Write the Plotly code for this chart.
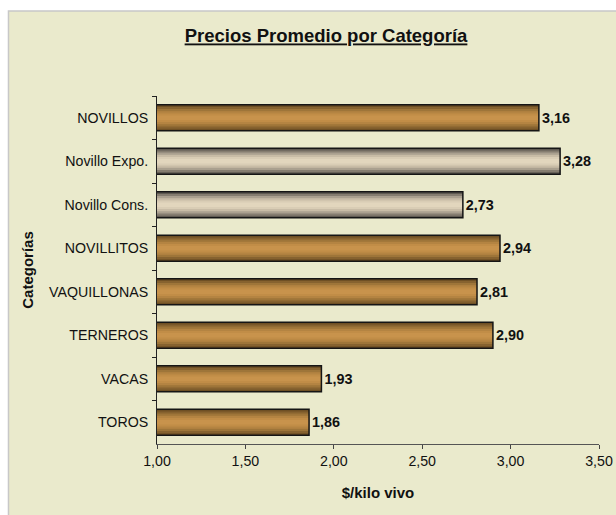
import plotly.graph_objects as go

categories = ["NOVILLOS", "Novillo Expo.", "Novillo Cons.", "NOVILLITOS",
              "VAQUILLONAS", "TERNEROS", "VACAS", "TOROS"]
values = [3.16, 3.28, 2.73, 2.94, 2.81, 2.90, 1.93, 1.86]
kinds = ["main", "sub", "sub", "main", "main", "main", "main", "main"]
x_ticks = [1.0, 1.5, 2.0, 2.5, 3.0, 3.5]

# gradient palettes (edge -> centre) for each bar kind
palettes = {
    "main": ["#6e4f24", "#86622f", "#9e7539", "#b48442", "#c18d47", "#c8934c"],
    "sub":  ["#5f5a52", "#857d70", "#aaa08f", "#c8bca6", "#d9cdb5", "#e2d6bd"],
}
BG = "#EAEACC"
FONT = "Liberation Sans, Arial"
bar_w = 0.6

fig = go.Figure()
n = len(palettes["main"])
for i in range(n):
    w = bar_w * (1 - i / n)
    fig.add_trace(go.Bar(
        y=categories, x=values, orientation="h", width=w,
        marker=dict(color=[palettes[k][i] for k in kinds], line=dict(width=0)),
        hoverinfo="skip", showlegend=False,
    ))

# outline + labels
fig.add_trace(go.Bar(
    y=categories, x=values, orientation="h", width=bar_w,
    marker=dict(color="rgba(0,0,0,0)", line=dict(color="#151515", width=1.5)),
    texttemplate="<b>%{x:.2f}</b>", textposition="outside",
    textfont=dict(family=FONT, size=14.4, color="#111"),
    cliponaxis=False, showlegend=False,
))

# panel background
fig.add_shape(type="rect", xref="paper", yref="paper",
              x0=-0.336, x1=1.06, y0=-0.25, y1=1.244,
              fillcolor=BG, line=dict(color="#c8c8c8", width=1.5), layer="below")

fig.update_layout(
    width=616, height=515,
    margin=dict(l=157, r=17, t=96, b=71, autoexpand=False),
    paper_bgcolor="white", plot_bgcolor="rgba(0,0,0,0)",
    barmode="overlay", separators=",.",
    font=dict(family=FONT, size=14.2, color="#111"),
    title=dict(text="<b><u>Precios Promedio por Categoría</u></b>",
               x=326 / 616, xanchor="center", y=1 - 36 / 515, yanchor="middle",
               font=dict(size=18.5, color="#111")),
    xaxis=dict(range=[1, 3.5], tickvals=x_ticks, tickformat=".2f",
               automargin=False,
               showline=True, linecolor="#555", linewidth=1,
               ticks="outside", ticklen=4, tickcolor="#444",
               showgrid=False, zeroline=False,
               title=dict(text="<b>$/kilo vivo</b>", standoff=19,
                          font=dict(size=15))),
    yaxis=dict(autorange="reversed", automargin=False,
               showline=True, linecolor="#222", linewidth=1,
               ticks="outside", ticklen=4, tickcolor="#222", tickson="boundaries",
               ticklabelstandoff=5, showgrid=False,
               title=dict(text="<b>Categorías</b>", standoff=11,
                          font=dict(size=15))),
)

fig.write_html(
    "out.html",
    config={"displayModeBar": False},
    post_script="document.body.style.margin='0';"
                "document.documentElement.style.overflow='hidden';",
)
